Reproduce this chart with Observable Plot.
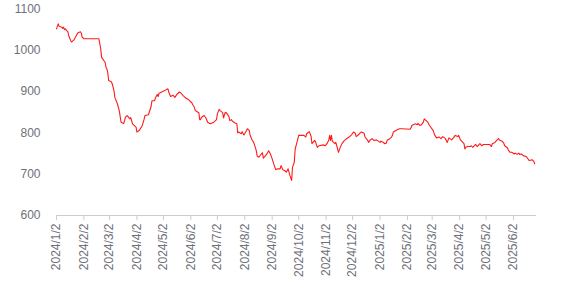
<!DOCTYPE html>
<html>
<head>
<meta charset="utf-8">
<script src="https://cdn.jsdelivr.net/npm/d3@7"></script>
<script src="https://cdn.jsdelivr.net/npm/@observablehq/plot@0.6"></script>
<style>
  html, body { margin: 0; padding: 0; background: #fff; }
  #chart { width: 568px; height: 285px; }
</style>
</head>
<body>
<div id="chart"></div>
<script>
const dates = [
  "2024-01-02","2024-01-04","2024-01-05","2024-01-08","2024-01-09","2024-01-10","2024-01-11","2024-01-12",
  "2024-01-15","2024-01-16","2024-01-18","2024-01-19","2024-01-22","2024-01-24","2024-01-26","2024-01-29",
  "2024-01-30","2024-01-31","2024-02-02","2024-02-19","2024-02-21","2024-02-22","2024-02-26","2024-02-27",
  "2024-02-28","2024-02-29","2024-03-01","2024-03-04","2024-03-05","2024-03-07","2024-03-08","2024-03-11",
  "2024-03-13","2024-03-15","2024-03-18","2024-03-19","2024-03-20","2024-03-22","2024-03-25","2024-03-26",
  "2024-03-28","2024-04-01","2024-04-02","2024-04-05","2024-04-08","2024-04-10","2024-04-11","2024-04-15",
  "2024-04-18","2024-04-19","2024-04-22","2024-04-23","2024-04-25","2024-04-26","2024-04-27","2024-04-30",
  "2024-05-04","2024-05-07","2024-05-08","2024-05-10","2024-05-13","2024-05-15","2024-05-17","2024-05-20",
  "2024-05-22","2024-05-24","2024-05-27","2024-05-30","2024-06-03","2024-06-05","2024-06-06","2024-06-07",
  "2024-06-11","2024-06-12","2024-06-13","2024-06-14","2024-06-17","2024-06-19","2024-06-21","2024-06-24",
  "2024-06-26","2024-06-28","2024-07-01","2024-07-02","2024-07-04","2024-07-05","2024-07-08","2024-07-09",
  "2024-07-10","2024-07-11","2024-07-12","2024-07-15","2024-07-16","2024-07-18","2024-07-19","2024-07-22",
  "2024-07-24","2024-07-25","2024-07-26","2024-07-29","2024-07-30","2024-08-01","2024-08-03","2024-08-05",
  "2024-08-07","2024-08-08","2024-08-10","2024-08-12","2024-08-13","2024-08-15","2024-08-16","2024-08-18",
  "2024-08-20","2024-08-22","2024-08-23","2024-08-25","2024-08-27","2024-08-29","2024-08-31","2024-09-02",
  "2024-09-04","2024-09-06","2024-09-08","2024-09-11","2024-09-12","2024-09-14","2024-09-16","2024-09-18",
  "2024-09-20","2024-09-22","2024-09-24","2024-09-25","2024-09-27","2024-09-28","2024-09-30","2024-10-02",
  "2024-10-08","2024-10-10","2024-10-11","2024-10-14","2024-10-16","2024-10-17","2024-10-20","2024-10-21",
  "2024-10-23","2024-10-25","2024-10-30","2024-11-01","2024-11-03","2024-11-05","2024-11-06","2024-11-07",
  "2024-11-08","2024-11-09","2024-11-12","2024-11-13","2024-11-15","2024-11-16","2024-11-18","2024-11-20",
  "2024-11-22","2024-11-25","2024-11-28","2024-12-01","2024-12-03","2024-12-05","2024-12-06","2024-12-09",
  "2024-12-10","2024-12-12","2024-12-15","2024-12-16","2024-12-19","2024-12-20","2024-12-22","2024-12-24",
  "2024-12-26","2024-12-29","2024-12-31","2025-01-02","2025-01-03","2025-01-06","2025-01-07","2025-01-09",
  "2025-01-10","2025-01-13","2025-01-15","2025-01-16","2025-01-17","2025-01-20","2025-01-22","2025-01-24",
  "2025-01-27","2025-02-05","2025-02-06","2025-02-07","2025-02-11","2025-02-13","2025-02-14","2025-02-16",
  "2025-02-18","2025-02-20","2025-02-21","2025-02-25","2025-02-27","2025-02-28","2025-03-03","2025-03-05",
  "2025-03-07","2025-03-10","2025-03-12","2025-03-14","2025-03-17","2025-03-19","2025-03-21","2025-03-24",
  "2025-03-26","2025-03-28","2025-03-31","2025-04-01","2025-04-02","2025-04-03","2025-04-07","2025-04-08",
  "2025-04-09","2025-04-11","2025-04-14","2025-04-15","2025-04-17","2025-04-20","2025-04-22","2025-04-25",
  "2025-04-27","2025-04-29","2025-05-02","2025-05-06","2025-05-08","2025-05-09","2025-05-12","2025-05-14",
  "2025-05-16","2025-05-17","2025-05-20","2025-05-22","2025-05-23","2025-05-26","2025-05-27","2025-05-29",
  "2025-05-31","2025-06-03","2025-06-04","2025-06-06","2025-06-08","2025-06-09","2025-06-11","2025-06-13",
  "2025-06-16","2025-06-17","2025-06-19","2025-06-20","2025-06-23","2025-06-25","2025-06-26"
];
const prices = [
  1052,1064,1058,1056,1053,1056,1050,1052,
  1044,1034,1024,1020,1026,1034,1042,1045,
  1042,1032,1028,1028,1004,983,971,959,
  955,946,927,924,919,903,886,870,
  854,826,823,830,838,842,834,837,
  822,814,802,807,818,832,842,844,
  864,878,878,885,893,888,896,899,
  903,907,899,888,891,886,893,899,
  896,891,885,881,873,865,862,854,
  849,832,832,838,842,836,826,822,
  824,826,832,846,857,854,849,836,
  844,850,849,840,830,832,828,824,
  822,800,802,798,803,795,802,810,
  806,795,784,777,771,757,744,741,
  747,752,739,744,749,757,749,737,
  723,711,713,713,721,711,709,705,
  713,697,685,717,729,761,777,794,
  794,790,798,803,792,774,782,779,
  765,769,771,769,774,782,794,782,
  794,780,774,777,761,753,765,774,
  780,786,790,796,802,799,791,796,
  799,802,799,790,782,777,783,786,
  782,783,780,777,780,777,774,775,
  782,786,790,794,802,806,808,810,
  810,809,812,818,822,820,823,818,
  820,826,834,826,818,815,806,794,
  788,790,786,791,786,777,788,783,
  788,794,791,794,788,783,774,761,
  765,767,767,769,765,772,767,774,
  769,772,772,772,767,774,777,782,
  786,783,780,775,769,764,759,753,
  753,749,751,748,751,748,749,745,
  743,741,735,733,735,731,725
];
const xTickLabels = [
  "2024/1/2","2024/2/2","2024/3/2","2024/4/2","2024/5/2","2024/6/2","2024/7/2","2024/8/2","2024/9/2",
  "2024/10/2","2024/11/2","2024/12/2","2025/1/2","2025/2/2","2025/3/2","2025/4/2","2025/5/2","2025/6/2"
];
const yTicks = [600, 700, 800, 900, 1000, 1100];
const xDomain = ["2024-01-02", "2025-06-28"];

const parseLabel = s => { const [y, m, d] = s.split("/").map(Number); return new Date(Date.UTC(y, m - 1, d)); };
const fmt = d => `${d.getUTCFullYear()}/${d.getUTCMonth() + 1}/${d.getUTCDate()}`;
const data = dates.map((d, i) => ({date: new Date(d + "T00:00:00Z"), price: prices[i]}));
const xTicks = xTickLabels.map(parseLabel);

const chart = Plot.plot({
  width: 568,
  height: 285,
  marginLeft: 56,
  marginRight: 32,
  marginTop: 8.5,
  marginBottom: 70,
  style: {fontFamily: "'Liberation Sans', Arial, sans-serif", fontSize: "12px", background: "#fff"},
  x: {type: "utc", domain: xDomain.map(d => new Date(d + "T00:00:00Z"))},
  y: {domain: [600, 1100]},
  marks: [
    Plot.axisY({ticks: yTicks, tickFormat: d => String(d), tickSize: 0, tickPadding: 16, label: null, fill: "#6e7079", fontSize: 12}),
    Plot.axisX({ticks: xTicks, tickFormat: fmt, tickRotate: -90, tickSize: 5, tickPadding: 3, label: null, stroke: "#cccccc", fill: "#6e7079", fontSize: 12}),
    Plot.ruleY([600], {stroke: "#cccccc"}),
    Plot.lineY(data, {x: "date", y: "price", stroke: "#ff1a1a", strokeWidth: 1.1})
  ]
});
document.getElementById("chart").appendChild(chart);
</script>
</body>
</html>
